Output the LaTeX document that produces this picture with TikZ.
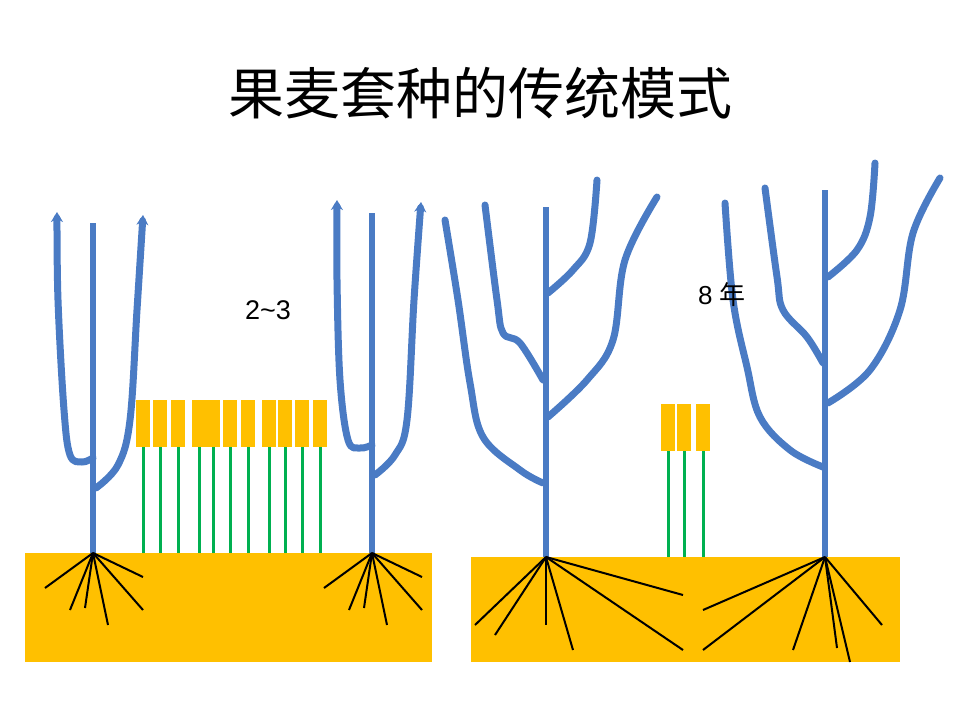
\documentclass[tikz,border=0pt]{standalone}
\usepackage{fontspec}
\newfontfamily\cjk{Noto Sans CJK SC}
\setsansfont{Liberation Sans}
\usetikzlibrary{arrows.meta}
\definecolor{soil}{HTML}{FFC000}
\definecolor{bark}{HTML}{4A7BC4}
\definecolor{stem}{HTML}{00B050}

\begin{document}
\begin{tikzpicture}[x=1pt,y=-1pt,line join=round]
    \tikzstyle{branch}=[draw=bark,line width=7pt,line cap=round]
    \tikzstyle{trunk}=[draw=bark,line width=6pt]
    \tikzstyle{root}=[draw=black,line width=2pt]
    \tikzstyle{stalk}=[draw=stem,line width=3pt]
    \tikzstyle{ear}=[fill=soil,minimum width=14pt,minimum height=47pt,inner sep=0pt]
    \useasboundingbox (0,0) rectangle (960,720);

    \node[font=\cjk\fontsize{56}{56}\selectfont] (title) at (480,93) {果麦套种的传统模式};

    % soil
    \fill[soil] (25,553) rectangle (432,662);
    \fill[soil] (471,557) rectangle (900,662);

    % young trees
    \coordinate (b1) at (93,553);
    \coordinate (b2) at (372,553);
    \draw[trunk] (b1) -- (93,223);
    \draw[trunk] (b2) -- (372,213);
    \draw[branch,-{Stealth[length=10pt,width=12pt]}] plot[smooth,tension=0.6] coordinates {(93,458) (82,462) (70,455) (64,410) (58,300) (57,212)};
    \draw[branch,-{Stealth[length=10pt,width=12pt]}] plot[smooth,tension=0.6] coordinates {(96,488) (118,465) (130,420) (137,310) (143,215)};
    \draw[branch,-{Stealth[length=10pt,width=12pt]}] plot[smooth,tension=0.6] coordinates {(372,445) (360,448) (348,440) (340,380) (337,280) (337,200)};
    \draw[branch,-{Stealth[length=10pt,width=12pt]}] plot[smooth,tension=0.6] coordinates {(375,475) (395,455) (407,420) (414,300) (421,202)};
    \foreach \dx/\dy in {-48/35,-23/57,-8/55,15/72,50/24,50/57} {
        \draw[root] (b1) -- ++(\dx,\dy);
        \draw[root] (b2) -- ++(\dx,\dy);
    }

    % wheat, many rows
    \foreach \x in {143,160,178,199,213,230,248,269,285,302,320} {
        \draw[stalk] (\x,447) -- (\x,553);
        \node[ear] (e\x) at (\x,423.5) {};
    }
    \node[font=\sffamily\fontsize{27}{27}\selectfont] (yrA) at (268,310) {2\textasciitilde3};

    % grown trees
    \coordinate (b3) at (546,557);
    \coordinate (b4) at (825,557);
    \draw[trunk] (b3) -- (546,207);
    \draw[trunk] (b4) -- (825,190);
    \draw[branch] plot[smooth,tension=0.6] coordinates {(543,483) (520,470) (483,437) (470,383) (458,300) (445,220)};
    \draw[branch] plot[smooth,tension=0.6] coordinates {(543,380) (520,343) (503,333) (497,300) (485,205)};
    \draw[branch] plot[smooth,tension=0.6] coordinates {(548,293) (573,270) (590,243) (597,180)};
    \draw[branch] plot[smooth,tension=0.6] coordinates {(548,417) (587,380) (613,340) (625,260) (657,197)};
    \draw[branch] plot[smooth,tension=0.6] coordinates {(823,467) (790,450) (760,417) (747,367) (733,300) (725,203)};
    \draw[branch] plot[smooth,tension=0.6] coordinates {(823,363) (807,337) (783,310) (777,277) (765,188)};
    \draw[branch] plot[smooth,tension=0.6] coordinates {(828,277) (857,250) (870,217) (875,163)};
    \draw[branch] plot[smooth,tension=0.6] coordinates {(828,403) (870,370) (900,310) (913,233) (940,178)};
    \foreach \ex/\ey in {475/625,495/635,546/625,573/650,683/650,683/595}
        \draw[root] (b3) -- (\ex,\ey);
    \foreach \ex/\ey in {703/610,703/650,793/650,837/648,850/662,882/625}
        \draw[root] (b4) -- (\ex,\ey);

    % wheat, few rows
    \foreach \x in {668,684,703} {
        \draw[stalk] (\x,450) -- (\x,557);
        \node[ear] (f\x) at (\x,427) {};
    }
    \node[font=\sffamily\fontsize{26}{26}\selectfont] (yrB) at (722,295) {8 {\cjk 年}};
\end{tikzpicture}
\end{document}
